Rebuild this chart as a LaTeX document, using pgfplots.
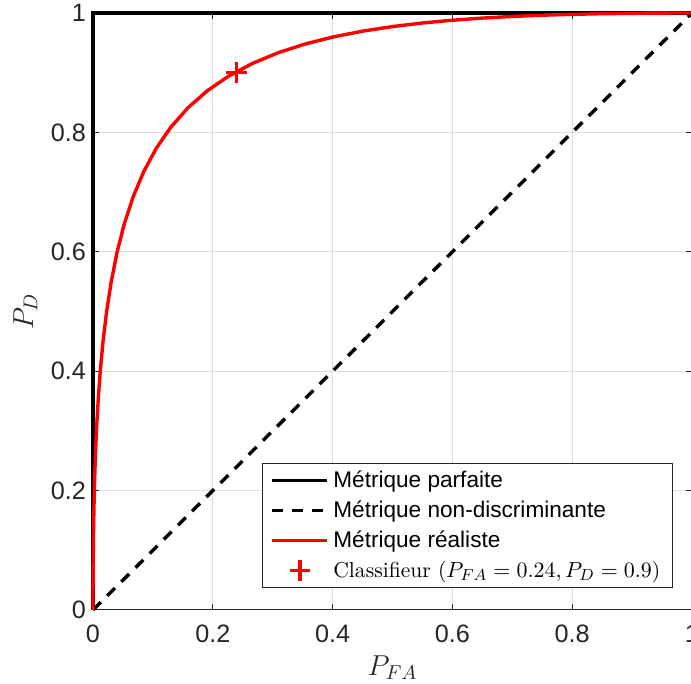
\documentclass[border=0pt]{standalone}
\usepackage{fontspec}
\usepackage{pgfplots}
\pgfplotsset{compat=1.18}
\newfontfamily\helv{Liberation Sans}
\definecolor{axgray}{rgb}{0.15,0.15,0.15}
\definecolor{gridgray}{rgb}{0.87,0.87,0.87}
\begin{document}
\begin{tikzpicture}
\begin{axis}[
  width=299.5pt, height=298.5pt, scale only axis,
  xmin=0, xmax=1, ymin=0, ymax=1,
  clip=false,
  xtick={0,0.2,0.4,0.6,0.8,1}, ytick={0,0.2,0.4,0.6,0.8,1},
  xticklabels={0,0.2,0.4,0.6,0.8,1}, yticklabels={0,0.2,0.4,0.6,0.8,1},
  grid=major, major grid style={draw=gridgray, line width=0.5pt},
  tick align=inside, major tick length=2.8pt,
  tick style={draw=axgray, line width=0.5pt},
  axis line style={draw=axgray, line width=0.5pt},
  ticklabel style={font=\helv\fontsize{12.6}{15}\selectfont, text=axgray},
  /pgf/number format/assume math mode=true,
  xticklabel style={yshift=-4pt},
  xlabel={$P_{FA}$}, ylabel={$P_D$},
  label style={font=\fontsize{14.4}{17}\selectfont, text=axgray},
  xlabel style={at={(axis description cs:0.5,-0.0754)}, anchor=north, inner sep=0pt},
  ylabel style={at={(axis description cs:-0.092,0.5)}, anchor=south, inner sep=0pt},
  legend image code/.code={\draw[mark repeat=2,mark phase=2,#1] plot coordinates {(0pt,0pt) (13.75pt,0pt) (27.5pt,0pt)};},
  legend cell align=left,
  legend style={at={(0.968,0.037)}, anchor=south east, draw=axgray, line width=0.5pt, fill=white,
    font=\helv\fontsize{11.3}{13}\selectfont, inner xsep=4pt, inner ysep=1pt,
    nodes={inner xsep=2pt, inner ysep=1.25pt, text height=9.6pt, text depth=2.9pt}},
]
\addplot[black, line width=1.9pt, line join=miter] coordinates {(0,0) (0,1) (1,1)};
\addlegendentry{Métrique parfaite}
\addplot[black, line width=1.7pt, dash pattern=on 5.5pt off 4.5pt] coordinates {(0,0) (1,1)};
\addlegendentry{Métrique non-discriminante}
\addplot[red, line width=1.7pt, line join=round] coordinates {
(0,0) (0.0000003,0.00135) (0.0000034,0.00621) (0.0000317,0.02275) (0.0000884,0.04006)
(0.000233,0.06681) (0.000577,0.10565) (0.000889,0.13029) (0.00135,0.15866) (0.00205,0.19079)
(0.00298,0.22663) (0.00433,0.26599) (0.00621,0.30854) (0.00877,0.35383) (0.01222,0.40129)
(0.01679,0.45026) (0.02275,0.5) (0.03040,0.54974) (0.04006,0.59871) (0.05208,0.64617)
(0.06681,0.69146) (0.08457,0.73401) (0.10565,0.77337) (0.13029,0.80921) (0.15866,0.84134)
(0.19079,0.86971) (0.22663,0.89435) (0.26599,0.91543) (0.30854,0.93319) (0.35383,0.94792)
(0.40129,0.95994) (0.45026,0.96960) (0.5,0.97725) (0.54974,0.98321) (0.59871,0.98778)
(0.64617,0.99123) (0.69146,0.99379) (0.73401,0.99567) (0.77337,0.99702) (0.84134,0.99865)
(0.89435,0.99935) (0.93319,0.99977) (0.97725,0.99997) (1,1)};
\addlegendentry{Métrique réaliste}
\addplot[only marks, red, mark=+, mark size=5.2pt, mark options={line width=1.6pt}] coordinates {(0.24,0.9)};
\addlegendentry{\rmfamily\fontsize{10.8}{12}\selectfont Classifieur ($P_{FA} = 0.24, P_D = 0.9$)}
\end{axis}
\pgfresetboundingbox
\path[use as bounding box] ([shift={(-46.5pt,-37pt)}]current axis.south west) rectangle ++(345.5pt,342pt);
\end{tikzpicture}
\end{document}
